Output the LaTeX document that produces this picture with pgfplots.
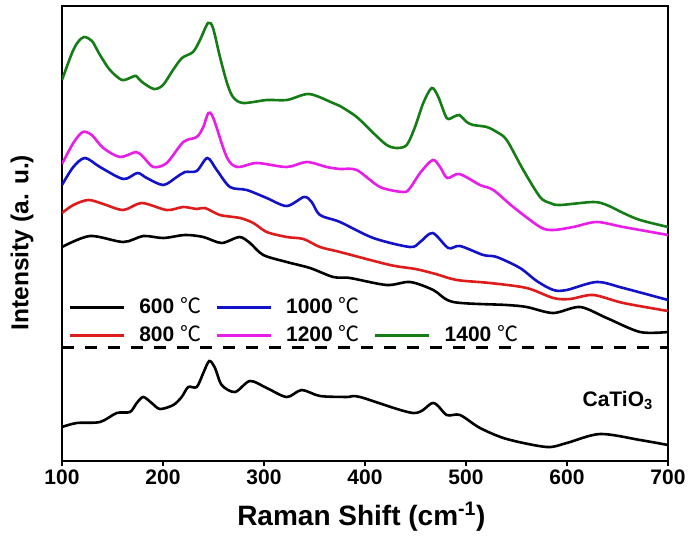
\documentclass[border=0pt]{standalone}
\usepackage{fontspec}
\setmainfont{Liberation Sans}
\newfontfamily\cjk{Noto Sans CJK SC}
\usepackage{pgfplots}
\pgfplotsset{compat=1.18}
\newcommand{\degC}{{\cjk\mdseries ℃}}
\definecolor{cred}{RGB}{222,28,28}
\definecolor{cblue}{RGB}{18,18,200}
\definecolor{cmag}{RGB}{232,30,232}
\definecolor{cgreen}{RGB}{22,125,22}
\begin{document}
\begin{tikzpicture}
\begin{axis}[name=ax,
  width=606pt, height=455pt, scale only axis,
  xmin=100, xmax=700, ymin=0, ymax=455,
  axis line style={line width=2pt},
  xtick={100,200,...,700}, ytick=\empty,
  xtick pos=lower, tick align=outside, major tick length=5pt,
  tick style={line width=2pt, black},
  ticklabel style={font=\fontsize{21}{25}\selectfont\bfseries},
  /pgf/number format/assume math mode=true,
  xlabel={Raman Shift (cm\textsuperscript{-1})},
  xlabel style={font=\fontsize{28}{32}\selectfont\bfseries, at={(axis description cs:0.494,0)}, anchor=base, yshift=-64pt},
  ylabel={Intensity (a. u.)},
  ylabel style={font=\fontsize{24.5}{28}\selectfont\bfseries, at={(axis description cs:-0.066,0.48)}, anchor=center},
  legend columns=3,
  legend image code/.code={\draw[#1, line width=3pt] (0pt,0pt) -- (54pt,0pt);},
  legend style={at={(axis cs:106,163.5)}, anchor=north west, draw=none, fill=none, inner sep=0pt,
    font=\fontsize{21}{25}\selectfont\bfseries, row sep=8pt,
    nodes={inner sep=0pt, text height=16pt, text depth=4pt},
    /tikz/every odd column/.append style={column sep=14pt},
    /tikz/every even column/.append style={column sep=14pt}},
  every axis plot/.append style={line width=2.6pt, smooth},
]
\addlegendimage{black}\addlegendentry{600 \degC}
\addlegendimage{cblue}\addlegendentry{1000 \degC}
\addlegendimage{empty legend}\addlegendentry{}
\addlegendimage{cred}\addlegendentry{800 \degC}
\addlegendimage{cmag}\addlegendentry{1200 \degC}
\addlegendimage{cgreen}\addlegendentry{1400 \degC}

% 1400
\addplot[cgreen, forget plot] coordinates {
(100,381) (109.9,408) (115.8,419) (121.8,424) (129.7,420) (137.6,406) (147.5,391) (159.4,381)
(169.3,384) (173.3,385) (179.2,379) (191.1,372) (200,376) (209.9,391) (218.8,403) (229.7,409)
(236.6,421) (244.6,438) (249.5,433) (256.4,404) (263.4,378) (269.3,364) (279.2,358) (303,361)
(322.8,361) (344.6,367) (368.3,358) (375.2,355) (391.8,344) (408.2,328) (421.5,316) (431.4,313)
(441.3,316) (449.5,334) (457.7,358) (466.1,373) (472.6,364) (480.9,343) (487.4,344) (493.4,346)
(500.7,339) (507.2,336) (520.5,334) (530.4,329) (540.3,321) (556.7,291) (573.3,264) (583.2,258)
(593.1,256) (626,259) (639.3,256) (655.7,248) (672.3,241) (700,234)};
% 1200
\addplot[cmag, forget plot] coordinates {
(100,297) (111.2,318) (120.5,329) (129.4,326) (140.9,313) (157.4,304) (173.3,309) (180.5,304)
(190.4,294) (203.7,298) (220.1,319) (233.4,324) (239.9,334) (244.9,348) (249.8,343) (263.1,304)
(273.6,294) (292.8,298) (322.5,294) (342.3,299) (362.1,294) (375.2,292) (391.8,291) (414.9,274)
(438,269) (444.6,273) (454.5,288) (467,301) (474.3,294) (481.5,283) (493.4,287) (513.9,276)
(527,271) (546.8,254) (573.3,234) (586.4,231) (606.2,234) (629.4,239) (655.7,234) (700,226)};
% 1000
\addplot[cblue, forget plot] coordinates {
(100,276) (111.2,294) (122.8,303) (137.6,294) (160.7,282) (174.6,288) (183.9,283) (200.3,276)
(213.6,284) (221.8,289) (233.4,290) (243.9,303) (253.2,291) (266.3,274) (282.9,271) (302.7,263)
(322.5,255) (339.6,264) (347.2,259) (355.4,246) (375.2,239) (408.2,223) (444.6,214) (454.5,219)
(467,228) (482.5,213) (494.1,215) (517.1,206) (530.4,204) (553.5,193) (570,180) (586.5,171)
(599.7,171) (629.4,179) (655.7,173) (700,161)};
% 800
\addplot[cred, forget plot] coordinates {
(100,248) (111.2,256) (126.0,261) (140.9,257) (160.7,251) (178.9,258) (203.7,251) (220.1,254)
(233.4,252) (241.6,253) (256.4,246) (276.2,243) (289.4,238) (302.7,229) (322.5,224) (339.0,222)
(355.4,214) (375.2,209) (424.8,196) (450,192) (470,187) (490.8,181) (523.8,178) (560.1,173)
(586.4,163) (603,162) (626,166) (655.7,158) (700,150)};
% 600
\addplot[black, forget plot] coordinates {
(100,214) (127.7,225) (160.7,219) (180.5,225) (200.3,223) (221.8,226) (239.9,224) (258.1,218)
(275.5,224) (286.1,218) (299.3,206) (322.5,199) (345.5,193) (368.6,184) (385.1,183) (421.5,176)
(444.6,179) (467.6,171) (487.4,159) (540.3,156) (560.1,154) (586.4,148) (612.9,154) (639.3,143)
(672.3,129) (700,129)};
% CaTiO3
\addplot[black, forget plot] coordinates {
(100,34) (114.6,38) (137.6,39) (154.2,48) (167.3,49) (174.0,58) (180.5,64) (188.8,58) (197.0,52)
(210.2,56) (218.5,64) (225.0,74) (233.4,74) (239.9,88) (245.8,100) (251.5,93) (258.1,76)
(271.3,69) (286.1,80) (302.7,73) (322.5,64) (337.3,71) (355.4,65) (381.9,64) (395,64) (447.8,48)
(467.6,58) (480.9,46) (494.1,46) (513.9,33) (540.3,22) (579.9,14) (599.7,18) (632.7,27)
(672.3,21) (700,16)};
% separator
\addplot[black, line width=3pt, sharp plot, dash pattern=on 12pt off 11pt, forget plot] coordinates {(100,114) (700,114)};
\node[anchor=base west, font=\fontsize{21}{25}\selectfont\bfseries] at (axis cs:612,55) {CaTiO\textsubscript{3}};
\end{axis}
\path ([xshift=-62pt,yshift=-78pt]ax.south west) rectangle ([xshift=23pt,yshift=6pt]ax.north east);
\end{tikzpicture}
\end{document}
